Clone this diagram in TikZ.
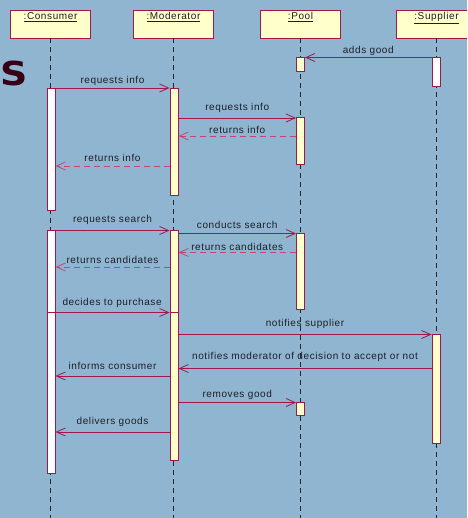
\documentclass[tikz,border=0pt]{standalone}
\usepackage{fontspec}
\setmainfont{Liberation Sans}[LetterSpace=6]
\newfontfamily\bigfont{DejaVu Sans}
\usetikzlibrary{arrows.meta}
\definecolor{bgblue}{RGB}{143,181,208}
\definecolor{umlred}{RGB}{160,24,74}
\definecolor{retred}{RGB}{196,70,110}
\definecolor{headfill}{RGB}{255,255,204}
\definecolor{txt}{RGB}{30,30,40}
\definecolor{bigs}{RGB}{55,0,20}
\tikzset{
  x=1pt, y=-1pt,
  every node/.style={font=\fontsize{10}{12}\selectfont, text=txt},
  head/.style={draw=umlred, fill=headfill, line width=0.9pt, minimum width=80pt, minimum height=28pt, inner sep=0pt},
  lifeline/.style={draw=black!85, line width=0.8pt, dash pattern=on 5pt off 4pt},
  actw/.style={draw=umlred, fill=white, line width=0.9pt, minimum width=8pt, inner sep=0pt},
  acty/.style={actw, fill=headfill},
  msg/.style={draw=umlred, line width=0.8pt, -{Straight Barb[length=9pt, width=8pt, line width=0.8pt]}},
  ret/.style={draw=retred, line width=0.8pt, dash pattern=on 6pt off 4pt, -{Straight Barb[length=9pt, width=8pt, line width=0.8pt]}},
  lbl/.style={above, inner sep=1.5pt, yshift=#1},
  lbl/.default=0pt,
}
\begin{document}
\begin{tikzpicture}
\fill[bgblue] (0,0) rectangle (467,518);
\useasboundingbox (0,0) rectangle (467,518);
\clip (0,0) rectangle (467,518);

% object heads
\node[head] (hc) at (50.5,24) {};
\node[head] (hm) at (173.5,24) {};
\node[head] (hp) at (300.5,24) {};
\node[head] (hs) at (436.5,24) {};
\foreach \h/\t in {hc/:Consumer, hm/:Moderator, hp/:Pool, hs/:Supplier}
  \node[anchor=north, inner sep=0pt] at ([yshift=-2.5pt]\h.north) {\underline{\t}};

% lifelines
\coordinate (ec) at (50.5,518);
\coordinate (em) at (173.5,518);
\coordinate (ep) at (300.5,518);
\coordinate (es) at (436.5,518);
\draw[lifeline] (hc.south) -- (ec);
\draw[lifeline] (hm.south) -- (em);
\draw[lifeline] (hp.south) -- (ep);
\draw[lifeline] (hs.south) -- (es);

% big letter at the left edge
\node[anchor=west, inner sep=0pt, text=bigs, xscale=1.15, font=\bigfont\fontsize{33}{33}\bfseries] (bigS) at (0,73) {S};

% activations
\node[acty, minimum height=14.5pt] (p1) at (300.5,64.5) {};
\node[actw, minimum height=29.5pt] (s1) at (436,72.2) {};
\node[actw, minimum height=122pt] (c1) at (51,149) {};
\node[acty, minimum height=107.5pt] (m1) at (174,141.8) {};
\node[acty, minimum height=46.5pt] (p2) at (300.5,141) {};
\node[actw, minimum height=243pt] (c2) at (51,351.8) {};
\node[acty, minimum height=229.7pt] (m2) at (174,345.2) {};
\node[acty, minimum height=76pt] (p3) at (300.5,271.3) {};
\node[acty, minimum height=109.5pt] (s2) at (436,389) {};
\node[acty, minimum height=13pt] (p4) at (300.5,408.8) {};

% messages
\draw[msg] (s1.west |- 0,57.5) -- node[lbl=0.5pt] {adds good} (p1.east |- 0,57.5);
\draw[msg] (c1.east |- 0,88) -- node[lbl=0.5pt] {requests info} (m1.west |- 0,88);
\draw[msg] (m1.east |- 0,118) -- node[lbl=3.5pt] {requests info} (p2.west |- 0,118);
\draw[ret] (p2.west |- 0,136) -- node[lbl] {returns info} (m1.east |- 0,136);
\draw[ret] (m1.west |- 0,166) -- node[lbl=2.5pt] {returns info} (c1.east |- 0,166);
\draw[msg] (c2.east |- 0,230.5) -- node[lbl=4.5pt] {requests search} (m2.west |- 0,230.5);
\draw[msg] (m2.east |- 0,233.5) -- node[lbl=3.5pt] {conducts search} (p3.west |- 0,233.5);
\draw[ret] (p3.west |- 0,252.5) -- node[lbl] {returns candidates} (m2.east |- 0,252.5);
\draw[ret] (m2.west |- 0,267) -- node[lbl=1.5pt] {returns candidates} (c2.east |- 0,267);
\draw[msg] (c2.west |- 0,312.5) -- node[lbl=3pt, xshift=4pt] {decides to purchase} (m2.west |- 0,312.5);
\draw[umlred, line width=0.8pt] (m2.west |- 0,312.5) -- (m2.east |- 0,312.5);
\draw[msg] (m2.east |- 0,334.5) -- node[lbl=4pt] {notifies supplier} (s2.west |- 0,334.5);
\draw[msg] (s2.west |- 0,368.5) -- node[lbl=5pt] {notifies moderator of decision to accept or not} (m2.east |- 0,368.5);
\draw[msg] (m2.west |- 0,376) -- node[lbl=4.5pt] {informs consumer} (c2.east |- 0,376);
\draw[msg] (m2.east |- 0,402.5) -- node[lbl=0.7pt] {removes good} (p4.west |- 0,402.5);
\draw[msg] (m2.west |- 0,432) -- node[lbl=3.5pt] {delivers goods} (c2.east |- 0,432);
\end{tikzpicture}
\end{document}
